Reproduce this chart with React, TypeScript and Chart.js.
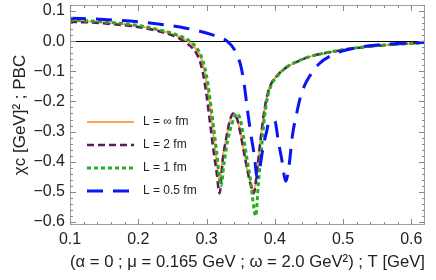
import React, { useEffect, useRef } from 'react';
import { Chart, registerables } from 'chart.js';

Chart.register(...registerables);

// L = ∞ fm
const tInf = [0.10, 0.13, 0.16, 0.19, 0.21, 0.23, 0.25, 0.26, 0.27, 0.28, 0.285, 0.29, 0.295, 0.30, 0.305, 0.31, 0.315, 0.319, 0.324, 0.329, 0.334, 0.340, 0.345, 0.350, 0.355, 0.360, 0.365, 0.369, 0.375, 0.380, 0.385, 0.390, 0.395, 0.403, 0.417, 0.436, 0.45, 0.485, 0.53, 0.58, 0.62];
const vInf = [0.068, 0.065, 0.060, 0.053, 0.046, 0.036, 0.023, 0.015, 0.004, -0.012, -0.028, -0.045, -0.08, -0.135, -0.21, -0.31, -0.40, -0.462, -0.38, -0.32, -0.265, -0.24, -0.26, -0.31, -0.37, -0.43, -0.475, -0.50, -0.41, -0.31, -0.225, -0.17, -0.14, -0.115, -0.087, -0.065, -0.052, -0.035, -0.02, -0.01, -0.005];

// L = 2 fm
const t2 = [0.10, 0.13, 0.16, 0.19, 0.21, 0.23, 0.25, 0.26, 0.265, 0.27, 0.28, 0.285, 0.29, 0.295, 0.30, 0.305, 0.31, 0.315, 0.319, 0.324, 0.329, 0.334, 0.339, 0.345, 0.350, 0.355, 0.360, 0.365, 0.369, 0.375, 0.380, 0.385, 0.390, 0.395, 0.403, 0.417, 0.436, 0.45, 0.485, 0.53, 0.58, 0.62];
const v2 = [0.064, 0.062, 0.057, 0.050, 0.043, 0.033, 0.019, 0.009, 0.002, -0.006, -0.024, -0.04, -0.065, -0.11, -0.18, -0.27, -0.36, -0.44, -0.505, -0.39, -0.32, -0.265, -0.24, -0.26, -0.31, -0.37, -0.43, -0.48, -0.505, -0.41, -0.31, -0.225, -0.17, -0.14, -0.115, -0.087, -0.065, -0.052, -0.035, -0.02, -0.01, -0.005];

// L = 1 fm
const t1 = [0.10, 0.13, 0.16, 0.19, 0.21, 0.23, 0.25, 0.26, 0.27, 0.275, 0.28, 0.285, 0.29, 0.295, 0.30, 0.305, 0.31, 0.315, 0.321, 0.326, 0.331, 0.337, 0.345, 0.350, 0.355, 0.360, 0.365, 0.368, 0.372, 0.376, 0.380, 0.385, 0.390, 0.395, 0.403, 0.417, 0.436, 0.45, 0.485, 0.53, 0.58, 0.62];
const v1 = [0.070, 0.067, 0.062, 0.055, 0.048, 0.038, 0.026, 0.018, 0.008, 0.001, -0.008, -0.02, -0.038, -0.068, -0.115, -0.19, -0.28, -0.37, -0.48, -0.40, -0.33, -0.275, -0.24, -0.265, -0.33, -0.40, -0.47, -0.53, -0.58, -0.47, -0.37, -0.25, -0.18, -0.145, -0.118, -0.086, -0.064, -0.052, -0.034, -0.019, -0.01, -0.005];

// L = 0.5 fm
const t05 = [0.10, 0.15, 0.20, 0.24, 0.27, 0.29, 0.31, 0.32, 0.33, 0.34, 0.345, 0.35, 0.355, 0.36, 0.365, 0.37, 0.374, 0.378, 0.383, 0.388, 0.392, 0.400, 0.405, 0.410, 0.416, 0.421, 0.426, 0.432, 0.437, 0.443, 0.45, 0.465, 0.485, 0.50, 0.525, 0.55, 0.58, 0.62];
const v05 = [0.076, 0.072, 0.064, 0.054, 0.043, 0.033, 0.020, 0.012, 0.0, -0.025, -0.048, -0.08, -0.14, -0.23, -0.31, -0.38, -0.45, -0.42, -0.35, -0.30, -0.265, -0.265, -0.33, -0.39, -0.465, -0.41, -0.31, -0.24, -0.19, -0.15, -0.12, -0.075, -0.045, -0.032, -0.02, -0.013, -0.008, -0.004];

const seriesLabels = ['L = ∞ fm', 'L = 2 fm', 'L = 1 fm', 'L = 0.5 fm'];
const xTicks = [0.1, 0.2, 0.3, 0.4, 0.5, 0.6];
const yTicks = [-0.6, -0.5, -0.4, -0.3, -0.2, -0.1, 0, 0.1];
const xTitle = '(α = 0 ; μ = 0.165 GeV ; ω = 2.0 GeV²) ; T [GeV]';
const yTitle = 'χc [GeV]² ; PBC';

const toPoints = (t: number[], v: number[]) => t.map((x, i) => ({ x, y: v[i] }));
const fmt = (v: number) => (v < -1e-9 ? '\u2212' : '') + Math.abs(v).toFixed(1);

const FONT = 'Liberation Sans, Arial, sans-serif';

const framePlugin = {
  id: 'frameTicks',
  afterDatasetsDraw(chart: any) {
    const { ctx, chartArea: a, scales } = chart;
    const xs = scales.x;
    const ys = scales.y;
    ctx.save();
    ctx.strokeStyle = '#a0a0a0';
    ctx.lineWidth = 1;
    ctx.setLineDash([]);
    ctx.strokeRect(a.left + 0.5, a.top + 0.5, a.right - a.left - 1, a.bottom - a.top - 1);
    ctx.strokeStyle = '#888';
    ctx.beginPath();
    for (let k = 0; k <= 26; k++) {
      const v = 0.1 + k * 0.02;
      const px = Math.round(xs.getPixelForValue(v)) + 0.5;
      if (px < a.left || px > a.right) continue;
      const len = k % 5 === 0 ? 6 : 3;
      ctx.moveTo(px, a.bottom);
      ctx.lineTo(px, a.bottom - len);
      ctx.moveTo(px, a.top);
      ctx.lineTo(px, a.top + len);
    }
    for (let k = 0; k <= 36; k++) {
      const v = -0.6 + k * 0.02;
      const py = Math.round(ys.getPixelForValue(v)) + 0.5;
      if (py < a.top || py > a.bottom) continue;
      const len = k % 5 === 0 ? 6 : 3;
      ctx.moveTo(a.left, py);
      ctx.lineTo(a.left + len, py);
      ctx.moveTo(a.right, py);
      ctx.lineTo(a.right - len, py);
    }
    ctx.stroke();

    // legend
    const rows = [122, 145, 168, 191];
    chart.data.datasets.forEach((ds: any, i: number) => {
      const y = rows[i];
      ctx.strokeStyle = ds.borderColor;
      ctx.lineWidth = ds.borderWidth;
      ctx.setLineDash(ds.borderDash || []);
      ctx.beginPath();
      ctx.moveTo(87, y);
      ctx.lineTo(134, y);
      ctx.stroke();
      ctx.setLineDash([]);
      ctx.fillStyle = '#222';
      ctx.font = '12px ' + FONT;
      ctx.textBaseline = 'middle';
      ctx.textAlign = 'left';
      ctx.fillText(ds.label, 143, y);
    });
    ctx.restore();
  },
};

export default function App() {
  const ref = useRef<HTMLCanvasElement | null>(null);
  useEffect(() => {
    document.body.style.margin = '0';
    const canvas = ref.current;
    if (!canvas) return;
    const chart = new Chart(canvas, {
      type: 'line',
      data: {
        datasets: [
          { label: seriesLabels[0], data: toPoints(tInf, vInf), borderColor: '#FBA656', borderWidth: 2, borderDash: [], order: 3 },
          { label: seriesLabels[1], data: toPoints(t2, v2), borderColor: '#5E1A5E', borderWidth: 2.5, borderDash: [7, 4], order: 2 },
          { label: seriesLabels[2], data: toPoints(t1, v1), borderColor: '#22B022', borderWidth: 3, borderDash: [4, 3], order: 1 },
          { label: seriesLabels[3], data: toPoints(t05, v05), borderColor: '#0A14F5', borderWidth: 3, borderDash: [16, 10], order: 0 },
        ] as any,
      },
      options: {
        animation: false,
        responsive: false,
        elements: { point: { radius: 0 }, line: { cubicInterpolationMode: 'monotone', fill: false } },
        layout: { padding: { top: 5, right: 11, left: 0, bottom: 0 } },
        plugins: { legend: { display: false }, tooltip: { enabled: false } },
        scales: {
          x: {
            type: 'linear',
            min: 0.1,
            max: 0.62,
            afterBuildTicks: (s: any) => { s.ticks = xTicks.map((v) => ({ value: v })); },
            afterFit: (s: any) => { s.height = 55; s.paddingLeft = 0; s.paddingRight = 0; },
            grid: { display: false, drawTicks: false },
            border: { display: false },
            ticks: { color: '#222', font: { size: 16, family: FONT }, padding: 5, maxRotation: 0, callback: (v: any) => Number(v).toFixed(1) },
            title: { display: true, text: xTitle, color: '#222', font: { size: 17, family: FONT }, padding: { top: 0, bottom: 7 } },
          },
          y: {
            type: 'linear',
            min: -0.61,
            max: 0.12,
            afterBuildTicks: (s: any) => { s.ticks = yTicks.map((v) => ({ value: v })); },
            afterFit: (s: any) => { s.width = 70; s.paddingTop = 0; s.paddingBottom = 0; },
            grid: {
              drawTicks: false,
              color: (c: any) => (c.tick && Math.abs(c.tick.value) < 1e-9 ? '#000' : 'rgba(0,0,0,0)'),
              lineWidth: 1,
            },
            border: { display: false },
            ticks: { color: '#222', font: { size: 16, family: FONT }, padding: 5, callback: (v: any) => fmt(Number(v)) },
            title: { display: true, text: yTitle, color: '#222', font: { size: 17, family: FONT }, padding: { top: 10, bottom: 0 } },
          },
        },
      } as any,
      plugins: [framePlugin],
    });
    return () => chart.destroy();
  }, []);
  return (
    <div style={{ width: 436, height: 280 }}>
      <canvas ref={ref} width={436} height={280} style={{ display: 'block' }} />
    </div>
  );
}
